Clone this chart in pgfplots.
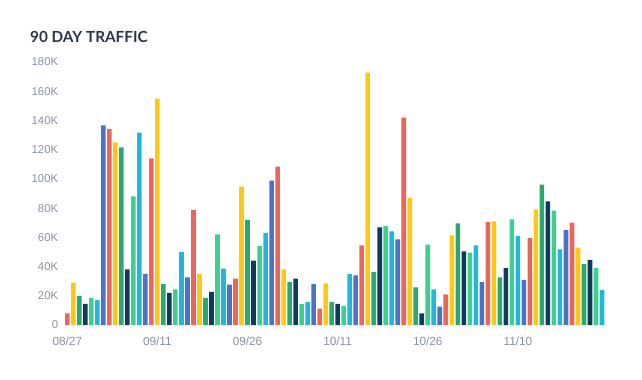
\documentclass[border=0pt]{standalone}
\usepackage{fontspec}
\setmainfont{Liberation Sans}
\newfontfamily\titlefont{Lato}
\usepackage{pgfplots}
\pgfplotsset{compat=1.18}
\definecolor{cRed}{HTML}{E8665C}
\definecolor{cYel}{HTML}{FFC913}
\definecolor{cDkG}{HTML}{2AA86F}
\definecolor{cNav}{HTML}{0E3A5B}
\definecolor{cLtG}{HTML}{3DCF8E}
\definecolor{cCya}{HTML}{24B5DA}
\definecolor{cBlu}{HTML}{4A73C5}
\definecolor{tickgray}{HTML}{8790A3}
\definecolor{titlecol}{HTML}{2A3548}
\begin{document}
\begin{tikzpicture}
\path[use as bounding box] (0,0) rectangle (642bp,380bp);
\node[anchor=west, inner sep=0pt, text=titlecol, font=\titlefont\bfseries\fontsize{15.3bp}{17bp}\selectfont] at (30bp,343.3bp) {90 DAY TRAFFIC};
\begin{axis}[
  at={(64.3bp,55bp)}, anchor=south west,
  scale only axis, width=540.7bp, height=263bp,
  xmin=0.5, xmax=90.5, ymin=0, ymax=180,
  ybar, bar width=4.6bp, bar shift=0pt,
  axis line style={draw=none}, major tick length=0pt,
  xtick={1,16,31,46,61,76},
  xticklabels={08/27,09/11,09/26,10/11,10/26,11/10},
  ytick={0,20,...,180},
  yticklabels={0,20K,40K,60K,80K,100K,120K,140K,160K,180K},
  xticklabel style={anchor=center, yshift=-16.7bp, text=tickgray, font=\fontsize{11.8bp}{13bp}\selectfont},
  yticklabel style={anchor=east, inner sep=0pt, xshift=-6bp, text=tickgray, font=\fontsize{11.3bp}{13bp}\selectfont},
  every axis plot/.append style={draw=none},
]
\addplot[fill=cRed] coordinates {(1,8) (8,134) (15,114) (22,78.7) (29,31.7) (36,108.4) (43,11.2) (50,54.5) (57,142) (64,21) (71,70.5) (78,59.5) (85,70)};
\addplot[fill=cYel] coordinates {(2,29) (9,125) (16,155) (23,35) (30,94.7) (37,38) (44,28.5) (51,172.7) (58,87) (65,61.4) (72,71) (79,79.2) (86,53)};
\addplot[fill=cDkG] coordinates {(3,20) (10,121.6) (17,28) (24,18.5) (31,71.9) (38,29.4) (45,15.7) (52,36.3) (59,25.8) (66,69.6) (73,32.6) (80,96) (87,41.7)};
\addplot[fill=cNav] coordinates {(4,14.4) (11,38) (18,22) (25,22.6) (32,44) (39,31.7) (46,14.4) (53,66.8) (60,8) (67,50.4) (74,39) (81,84.6) (88,44.5)};
\addplot[fill=cLtG] coordinates {(5,18.5) (12,88) (19,24.4) (26,62) (33,54) (40,14.4) (47,13) (54,67.8) (61,55) (68,49.5) (75,72.3) (82,78.2) (89,39)};
\addplot[fill=cCya] coordinates {(6,17) (13,131.6) (20,50) (27,38.5) (34,63) (41,15.7) (48,35) (55,64) (62,24.4) (69,54.5) (76,61) (83,51.8) (90,24)};
\addplot[fill=cBlu] coordinates {(7,136.7) (14,35) (21,32.6) (28,27.6) (35,98.8) (42,28) (49,34) (56,58.6) (63,12.6) (70,29.4) (77,30.8) (84,65)};
\end{axis}
\end{tikzpicture}
\end{document}
